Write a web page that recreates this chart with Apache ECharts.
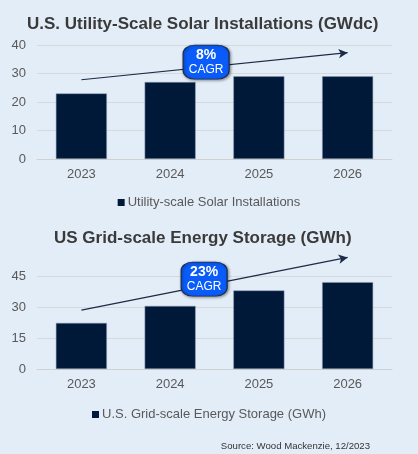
<!DOCTYPE html>
<html><head><meta charset="utf-8">
<script src="https://cdn.jsdelivr.net/npm/echarts@6/dist/echarts.min.js"></script>
<style>html,body{margin:0;padding:0;background:#e3edf7;}#c{width:418px;height:454px;}</style>
</head><body><div id="c"></div>
<script>
const years = ['2023','2024','2025','2026'];
const solarValues = [23, 27, 29, 29];
const storageValues = [22.3, 30.5, 38, 42];
const solarTicks = [0, 10, 20, 30, 40];
const storageTicks = [0, 15, 30, 45];
const solarArrow = [['2023', 27.8], ['2026', 37.3]];
const storageArrow = [['2023', 28.5], ['2026', 54]];
const solarBadge = ['2024', 34, '8%'];
const storageBadge = ['2024', 43.5, '23%'];

const navy = '#001939';
const font = 'Liberation Sans, Arial, sans-serif';

function badge(b, off) {
  return {
    symbol: 'roundRect', symbolSize: [46, 34], symbolOffset: [off, 0],
    itemStyle: { color: '#0a5cfa', borderColor: '#1c2a48', borderWidth: 1,
      shadowBlur: 3, shadowColor: 'rgba(0,0,0,0.45)', shadowOffsetX: 1, shadowOffsetY: 1 },
    label: { show: true, position: 'inside', formatter: '{a|' + b[2] + '}\n{b|CAGR}',
      rich: { a: { color: '#fff', fontWeight: 'bold', fontSize: 14, fontFamily: font, lineHeight: 16 },
              b: { color: '#fff', fontSize: 12, fontFamily: font, lineHeight: 14 } } },
    data: [{ coord: [b[0], b[1]] }]
  };
}
function arrow(a) {
  return {
    silent: true, symbol: ['none', 'arrow'], symbolSize: [7, 9],
    lineStyle: { color: '#1c2a48', width: 1.2, type: 'solid' },
    label: { show: false },
    data: [[{ coord: a[0] }, { coord: a[1] }]]
  };
}

const chart = echarts.init(document.getElementById('c'));
const xa = (gi) => ({
  type: 'category', data: years, gridIndex: gi,
  axisLine: { show: true, lineStyle: { color: '#d0d0d0' } }, axisTick: { show: false },
  axisLabel: { color: '#595959', fontSize: 13, fontFamily: font, margin: 9 }
});
const legendCommon = { left: 'center', icon: 'rect', itemWidth: 7, itemHeight: 7, itemGap: 3,
  itemStyle: { borderWidth: 0 },
  textStyle: { fontSize: 13, color: '#595959', fontFamily: font, padding: [0,0,0,-2] } };
chart.setOption({
  backgroundColor: '#e3edf7',
  animation: false,
  title: [
    { text: 'U.S. Utility-Scale Solar Installations (GWdc)', left: 22, top: 11,
      textStyle: { fontSize: 17, fontWeight: 'bold', color: '#3a3a3a', fontFamily: font } },
    { text: 'US Grid-scale Energy Storage (GWh)', left: 49, top: 225,
      textStyle: { fontSize: 17, fontWeight: 'bold', color: '#3a3a3a', fontFamily: font } },
    { text: 'Source: Wood Mackenzie, 12/2023', right: 43, top: 436,
      textStyle: { fontSize: 9.6, fontWeight: 'normal', color: '#333', fontFamily: font } }
  ],
  legend: [
    Object.assign({ data: ['Utility-scale Solar Installations'], top: 191 }, legendCommon),
    Object.assign({ data: ['U.S. Grid-scale Energy Storage (GWh)'], top: 403 }, legendCommon)
  ],
  grid: [
    { left: 37, right: 26, top: 45, bottom: 295 },
    { left: 37, right: 26, top: 245, bottom: 85 }
  ],
  xAxis: [xa(0), xa(1)],
  yAxis: [
    { type: 'value', gridIndex: 0, min: solarTicks[0], max: solarTicks[solarTicks.length-1], interval: 10,
      axisLine: { show: false }, axisTick: { show: false },
      splitLine: { lineStyle: { color: '#d6d9dc' } },
      axisLabel: { color: '#595959', fontSize: 13, fontFamily: font, margin: 11 } },
    { type: 'value', gridIndex: 1, min: 0, max: 60, interval: 15,
      axisLine: { show: false }, axisTick: { show: false },
      splitLine: { lineStyle: { color: ['#d6d9dc','#d6d9dc','#d6d9dc','#d6d9dc','rgba(0,0,0,0)'] } },
      axisLabel: { color: '#595959', fontSize: 13, fontFamily: font, margin: 11,
        formatter: v => storageTicks.indexOf(v) >= 0 ? String(v) : '' } }
  ],
  series: [
    { name: 'Utility-scale Solar Installations', type: 'bar', xAxisIndex: 0, yAxisIndex: 0,
      data: solarValues, barWidth: 51, itemStyle: { color: navy, borderColor: '#8a9ab5', borderWidth: 0.5 },
      markLine: arrow(solarArrow), markPoint: badge(solarBadge, 36) },
    { name: 'U.S. Grid-scale Energy Storage (GWh)', type: 'bar', xAxisIndex: 1, yAxisIndex: 1,
      data: storageValues, barWidth: 51, itemStyle: { color: navy, borderColor: '#8a9ab5', borderWidth: 0.5 },
      markLine: arrow(storageArrow), markPoint: badge(storageBadge, 34) }
  ]
});
</script></body></html>
